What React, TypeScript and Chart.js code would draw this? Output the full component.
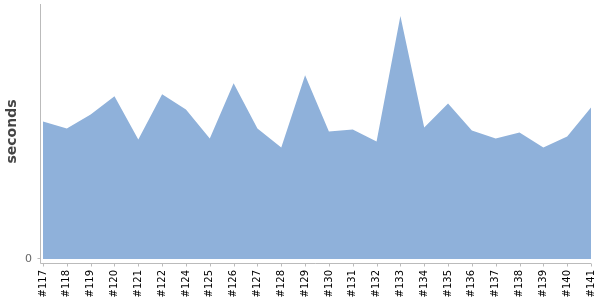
import React, { useEffect, useRef } from "react";
import { Chart, registerables } from "chart.js";

Chart.register(...registerables);

const builds = ["#117","#118","#119","#120","#121","#122","#124","#125","#126","#127","#128","#129","#130","#131","#132","#133","#134","#135","#136","#137","#138","#139","#140","#141"];
const seconds = [137,130,144,162,119,164,149,120,175,130,111,183,127,129,117,242,131,155,128,120,126,111,122,151];
const yMax = 254;
const yTicks = [0];

const axisPlugin = {
  id: "offsetAxes",
  afterDraw(chart: any) {
    const { ctx, chartArea } = chart;
    const xs = chart.scales.x;
    const ys = chart.scales.y;
    const axX = Math.round(chartArea.left) - 3 + 0.5;
    const axY = Math.round(chartArea.bottom) + 4 + 0.5;
    ctx.save();
    ctx.strokeStyle = "#bbbbbb";
    ctx.lineWidth = 1;
    ctx.beginPath();
    ctx.moveTo(axX, chartArea.top);
    ctx.lineTo(axX, axY);
    ctx.moveTo(axX, axY);
    ctx.lineTo(chartArea.right, axY);
    xs.ticks.forEach((_t: any, i: number) => {
      const px = Math.round(xs.getPixelForTick(i)) + 0.5;
      ctx.moveTo(px, axY);
      ctx.lineTo(px, axY + 3);
    });
    yTicks.forEach((v) => {
      const py = Math.round(ys.getPixelForValue(v)) - 0.5;
      ctx.moveTo(axX - 3, py);
      ctx.lineTo(axX, py);
    });
    ctx.stroke();
    ctx.restore();
  },
};

export default function App() {
  const ref = useRef<HTMLCanvasElement>(null);
  useEffect(() => {
    const chart = new Chart(ref.current as HTMLCanvasElement, {
      type: "line",
      data: {
        labels: builds,
        datasets: [
          {
            data: seconds,
            fill: "origin",
            backgroundColor: "#8fb1da",
            borderWidth: 0,
            borderColor: "rgba(0,0,0,0)",
            pointRadius: 0,
            tension: 0,
          },
        ],
      },
      options: {
        animation: false,
        responsive: false,
        maintainAspectRatio: false,
        layout: { padding: { top: 4, right: 9, left: 0, bottom: 0 } },
        plugins: { legend: { display: false }, tooltip: { enabled: false } },
        scales: {
          x: {
            type: "category",
            offset: false,
            grid: { display: false, drawTicks: false },
            border: { display: false },
            ticks: {
              autoSkip: false,
              minRotation: 90,
              maxRotation: 90,
              padding: 11,
              color: "#000",
              font: { family: "DejaVu Sans", size: 10 },
            },
            afterFit(scale: any) {
              scale.height = 41;
              scale.paddingLeft = 0;
              scale.paddingRight = 0;
              scale.paddingTop = 0;
              scale.paddingBottom = 0;
            },
          },
          y: {
            min: 0,
            max: yMax,
            grid: { display: false, drawTicks: false },
            border: { display: false },
            afterBuildTicks(scale: any) {
              scale.ticks = yTicks.map((v) => ({ value: v }));
            },
            ticks: {
              padding: 11,
              color: "#666",
              font: { family: "DejaVu Sans", size: 11 },
            },
            title: {
              display: true,
              text: "seconds",
              color: "#444",
              padding: 4,
              font: { family: "DejaVu Sans", size: 14, weight: "bold" },
            },
            afterFit(scale: any) {
              scale.width = 43;
              scale.paddingLeft = 0;
              scale.paddingRight = 0;
              scale.paddingTop = 0;
              scale.paddingBottom = 0;
            },
          },
        },
      },
      plugins: [axisPlugin],
    });
    return () => chart.destroy();
  }, []);
  return (
    <div style={{ position: "fixed", left: 0, top: 0, width: 600, height: 300 }}>
      <canvas ref={ref} width={600} height={300} />
    </div>
  );
}
